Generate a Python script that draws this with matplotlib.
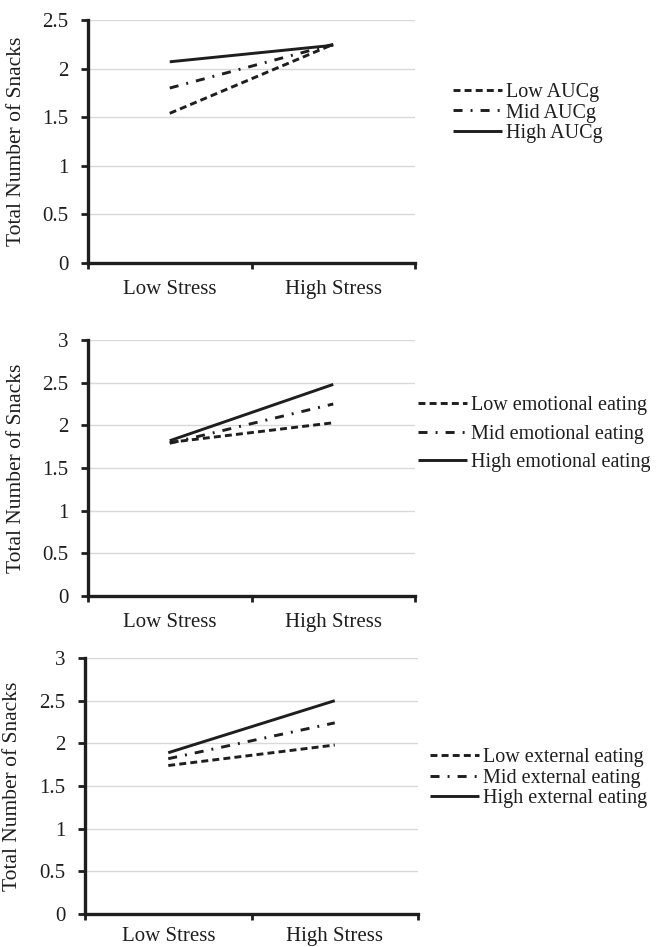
import matplotlib
matplotlib.use("Agg")
import matplotlib.pyplot as plt
from matplotlib.ticker import FormatStrFormatter

plt.rcParams["font.family"] = ["Liberation Serif", "DejaVu Serif"]
plt.rcParams["lines.scale_dashes"] = False

# data --------------------------------------------------------------------
conditions = ["Low Stress", "High Stress"]

auc_labels = ["Low AUCg", "Mid AUCg", "High AUCg"]
auc_low = [1.54, 2.25]
auc_mid = [1.80, 2.25]
auc_high = [2.07, 2.24]

emo_labels = ["Low emotional eating", "Mid emotional eating", "High emotional eating"]
emo_low = [1.80, 2.03]
emo_mid = [1.79, 2.25]
emo_high = [1.82, 2.48]

ext_labels = ["Low external eating", "Mid external eating", "High external eating"]
ext_low = [1.74, 1.98]
ext_mid = [1.82, 2.24]
ext_high = [1.89, 2.50]

y_max = [2.5, 3.0, 3.0]

# styles -------------------------------------------------------------------
INK = "#1e1e1e"
GRID = "#d9d9d9"
styles = [
    dict(linestyle=(0, (5.0, 3.0))),
    dict(linestyle=(0, (6.5, 5.8, 1.4, 5.8))),
    dict(linestyle="-"),
]

fig = plt.figure(figsize=(6.7, 9.47), dpi=100)

# axes boxes in figure fractions: left, bottom, width, height
boxes = [
    (88 / 670, 1 - 263 / 947, 327 / 670, 243 / 947),
    (88 / 670, 1 - 596 / 947, 327 / 670, 256 / 947),
    (85 / 670, 1 - 914 / 947, 333 / 670, 256 / 947),
]
legend_pos = [(453 / 670, 1 - 113 / 947), (418 / 670, 1 - 434 / 947), (430 / 670, 1 - 778 / 947)]
legend_spacing = [0.05, 0.45, 0.07]
xlabel_pad = [12, 12, 9]

panels = [
    (auc_labels, [auc_low, auc_mid, auc_high]),
    (emo_labels, [emo_low, emo_mid, emo_high]),
    (ext_labels, [ext_low, ext_mid, ext_high]),
]

x = list(range(len(conditions)))

for i, (labels, series) in enumerate(panels):
    ax = fig.add_axes(boxes[i])
    for vals, lab, st in zip(series, labels, styles):
        ax.plot(x, vals, color=INK, lw=2.1, label=lab, solid_capstyle="butt", **st)

    ax.set_xlim(-0.5, 1.5)
    ax.set_ylim(0, y_max[i])
    ax.set_yticks([k * 0.5 for k in range(int(y_max[i] / 0.5) + 1)])
    ax.yaxis.set_major_formatter(FormatStrFormatter("%g"))
    ax.set_xticks([-0.5, 0.5, 1.5])
    ax.set_xticklabels([])
    ax.set_xticks(x, minor=True)
    ax.set_xticklabels(conditions, minor=True)

    ax.grid(axis="y", color=GRID, lw=1.0)
    ax.set_axisbelow(True)
    for side in ("top", "right"):
        ax.spines[side].set_visible(False)
    for side in ("left", "bottom"):
        ax.spines[side].set_linewidth(2.4)
        ax.spines[side].set_color(INK)

    ax.tick_params(axis="y", which="major", direction="out", length=5, width=2.0,
                   color=INK, labelsize=15, labelcolor=INK, pad=9)
    ax.tick_params(axis="x", which="major", direction="out", length=4.5, width=2.0,
                   color=INK)
    ax.tick_params(axis="x", which="minor", length=0, labelsize=15,
                   labelcolor=INK, pad=xlabel_pad[i])

    ax.set_ylabel("Total Number of Snacks", fontsize=15.5, color=INK)
    ax.yaxis.set_label_coords(-0.19, 0.5)

    ax.legend(loc="center left", bbox_to_anchor=legend_pos[i],
              bbox_transform=fig.transFigure, frameon=False, fontsize=14.5,
              handlelength=2.45, handletextpad=0.2, borderpad=0,
              borderaxespad=0, labelspacing=legend_spacing[i], labelcolor=INK)

fig.savefig("out.png", dpi=100)
